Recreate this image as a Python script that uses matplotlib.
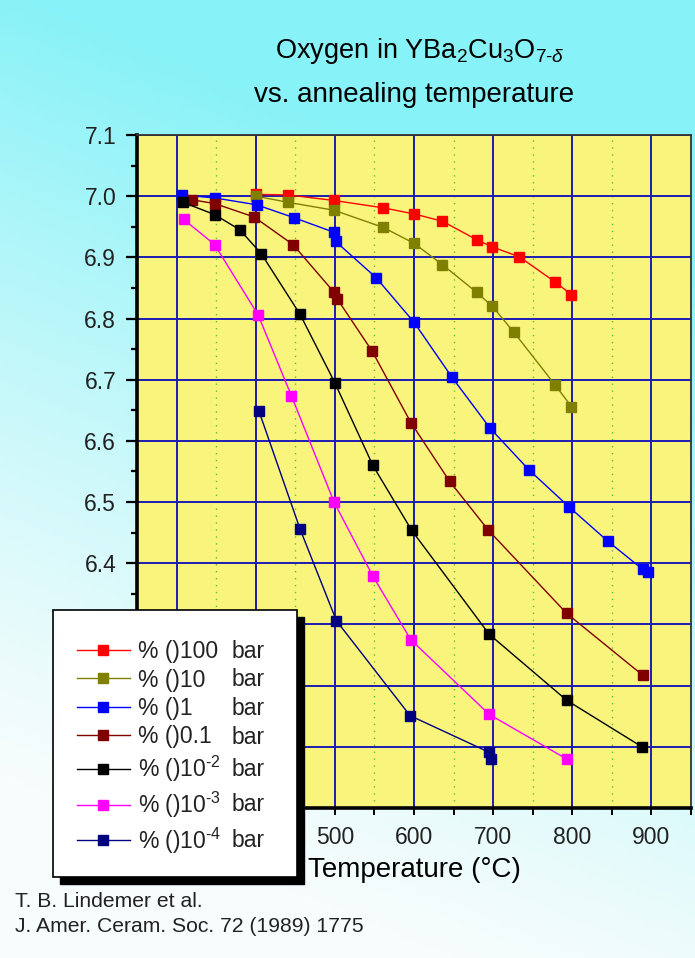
import numpy as np
import matplotlib
matplotlib.use('Agg')
import matplotlib.pyplot as plt
from matplotlib.lines import Line2D
from matplotlib.patches import Rectangle
from matplotlib.ticker import MultipleLocator, FixedLocator

plt.rcParams['font.family'] = ['Liberation Sans', 'DejaVu Sans']
plt.rcParams['mathtext.fontset'] = 'custom'
plt.rcParams['mathtext.rm'] = 'Liberation Sans'
plt.rcParams['mathtext.it'] = 'Liberation Sans:italic'
plt.rcParams['mathtext.bf'] = 'Liberation Sans:bold'

# oxygen content 7-delta vs annealing temperature, one series per oxygen pressure
T_100 = [400, 441, 499, 561, 600, 636, 679, 699, 733, 778, 799]
d_100 = [7.003, 7.002, 6.993, 6.981, 6.971, 6.959, 6.929, 6.917, 6.901, 6.860, 6.839]

T_10 = [400, 441, 499, 561, 600, 636, 679, 699, 726, 778, 799]
d_10 = [7.000, 6.990, 6.977, 6.949, 6.923, 6.888, 6.843, 6.820, 6.778, 6.692, 6.656]

T_1 = [307, 349, 401, 448, 499, 501, 552, 600, 648, 696, 745, 796, 845, 889, 896]
d_1 = [7.002, 6.997, 6.986, 6.965, 6.941, 6.926, 6.867, 6.794, 6.704, 6.621, 6.553,
       6.492, 6.436, 6.390, 6.386]

T_01 = [320, 348, 398, 447, 499, 503, 547, 596, 645, 694, 793, 889]
d_01 = [6.994, 6.988, 6.966, 6.921, 6.843, 6.832, 6.747, 6.630, 6.534, 6.454, 6.318, 6.217]

T_2 = [308, 348, 380, 407, 456, 500, 548, 597, 695, 793, 888]
d_2 = [6.990, 6.970, 6.945, 6.906, 6.807, 6.695, 6.560, 6.454, 6.284, 6.176, 6.100]

T_3 = [309, 348, 403, 445, 499, 548, 596, 695, 793]
d_3 = [6.962, 6.921, 6.806, 6.674, 6.500, 6.379, 6.275, 6.153, 6.080]

T_4 = [404, 456, 502, 595, 695, 697]
d_4 = [6.649, 6.456, 6.306, 6.151, 6.091, 6.080]

pressures = ['100', '10', '1', '0.1', r'10$^{\text{-}2}$', r'10$^{\text{-}3}$',
             r'10$^{\text{-}4}$']
colors = ['#ff0000', '#808000', '#0000ff', '#800000', '#000000', '#ff00ff', '#000080']
series = [(T_100, d_100), (T_10, d_10), (T_1, d_1), (T_01, d_01),
          (T_2, d_2), (T_3, d_3), (T_4, d_4)]

# axis ticks; the labels under the legend box are left blank
x_ticks = [300, 400, 500, 600, 700, 800, 900]
x_ticklabels = ['', '', '500', '600', '700', '800', '900']
y_ticks = [6.0, 6.1, 6.2, 6.3, 6.4, 6.5, 6.6, 6.7, 6.8, 6.9, 7.0, 7.1]
y_ticklabels = ['', '', '', '', '6.4', '6.5', '6.6', '6.7', '6.8', '6.9', '7.0', '7.1']

W, H = 695, 958
fig = plt.figure(figsize=(W / 100, H / 100), dpi=100)

# cyan backdrop fading to white towards the bottom left
bg = fig.add_axes([0, 0, 1, 1], zorder=-10)
yy, xx = np.mgrid[0:1:200j, 0:1:150j]
t = np.clip(1.2 * yy + 0.35 * xx - 0.22, 0, 1) ** 1.2
top = np.array([0.53, 0.95, 0.97])
low = np.array([0.97, 0.99, 0.99])
img = low[None, None, :] * (1 - t[..., None]) + top[None, None, :] * t[..., None]
bg.imshow(img, origin='lower', extent=[0, 1, 0, 1], aspect='auto')
bg.axis('off')

ax = fig.add_axes([137 / W, 1 - 808 / H, (691 - 137) / W, (808 - 135) / H])
ax.set_facecolor('#f9f57c')
ax.set_xlim(250, 950)
ax.set_ylim(6.0, 7.1)

for (T, d), c in zip(series, colors):
    ax.plot(T, d, color=c, lw=1.0, marker='s', ms=7.5, mec=c, mfc=c, zorder=3)

ax.set_xticks(x_ticks)
ax.set_xticklabels(x_ticklabels)
ax.xaxis.set_minor_locator(MultipleLocator(50))
ax.set_yticks(y_ticks)
ax.set_yticklabels(y_ticklabels)
ax.yaxis.set_minor_locator(MultipleLocator(0.05))

ax.set_axisbelow(True)
ax.grid(which='major', color='#1c1cb4', lw=1.4, ls='-')
ax.grid(which='minor', axis='x', color='#5cc040', lw=1.0, ls=(0, (1, 4)))

for s in ['left', 'bottom']:
    ax.spines[s].set_linewidth(2.6)
    ax.spines[s].set_color('black')
for s in ['top', 'right']:
    ax.spines[s].set_linewidth(1.3)
    ax.spines[s].set_color('#333333')

ax.tick_params(axis='y', which='major', direction='out', length=8, width=1.6,
               labelsize=16.5, pad=7, labelcolor='#222222')
ax.tick_params(axis='y', which='minor', direction='out', length=4.5, width=1.6)
ax.tick_params(axis='x', which='both', direction='out', length=5, width=1.4,
               labelsize=16.5, pad=8, labelcolor='#222222')

ax.set_xlabel('Temperature (°C)', fontsize=20, labelpad=6)

fig.text(420 / W, 1 - 58 / H, r'Oxygen in YBa$_2$Cu$_3$O$_{7\text{-}δ}$',
         ha='center', va='baseline', fontsize=19.5)
fig.text(414 / W, 1 - 102 / H, 'vs. annealing temperature',
         ha='center', va='baseline', fontsize=20)

fig.text(15 / W, 1 - 907 / H, 'T. B. Lindemer et al.', fontsize=15.2, va='baseline',
         color='#222222')
fig.text(15 / W, 1 - 932 / H, 'J. Amer. Ceram. Soc. 72 (1989) 1775', fontsize=15.2,
         va='baseline', color='#222222')

# legend box with a hard black shadow
lx0, ly0, lx1, ly1 = 53, 610, 297, 877
fig.add_artist(Rectangle(((lx0 + 7) / W, 1 - (ly1 + 7) / H), (lx1 - lx0) / W,
                         (ly1 - ly0) / H, transform=fig.transFigure,
                         facecolor='black', edgecolor='black', zorder=8))
fig.add_artist(Rectangle((lx0 / W, 1 - ly1 / H), (lx1 - lx0) / W, (ly1 - ly0) / H,
                         transform=fig.transFigure, facecolor='white',
                         edgecolor='black', lw=1.2, zorder=9))

handles = [Line2D([], [], color=c, lw=1.0, marker='s', ms=7, mec=c, mfc=c)
           for c in colors]
labels = ['% ()' + p for p in pressures]
leg = fig.legend(handles, labels, loc='upper left',
                 bbox_to_anchor=(77 / W, 1 - 640 / H), bbox_transform=fig.transFigure,
                 frameon=False, fontsize=16.5, handlelength=2.3, handletextpad=0.35,
                 borderpad=0, borderaxespad=0, labelspacing=0.24,
                 labelcolor='#222222')
leg.set_zorder(10)

fig.canvas.draw()
inv = fig.transFigure.inverted()
for txt in leg.get_texts():
    bb = txt.get_window_extent()
    x0, y0 = inv.transform((bb.x0, bb.y0))
    x1, y1 = inv.transform((bb.x1, bb.y1))
    fig.text(232 / W, (y0 + y1) / 2, 'bar', fontsize=16.5, va='center', ha='left',
             zorder=11, color='#222222')

fig.savefig('out.png', dpi=100)
